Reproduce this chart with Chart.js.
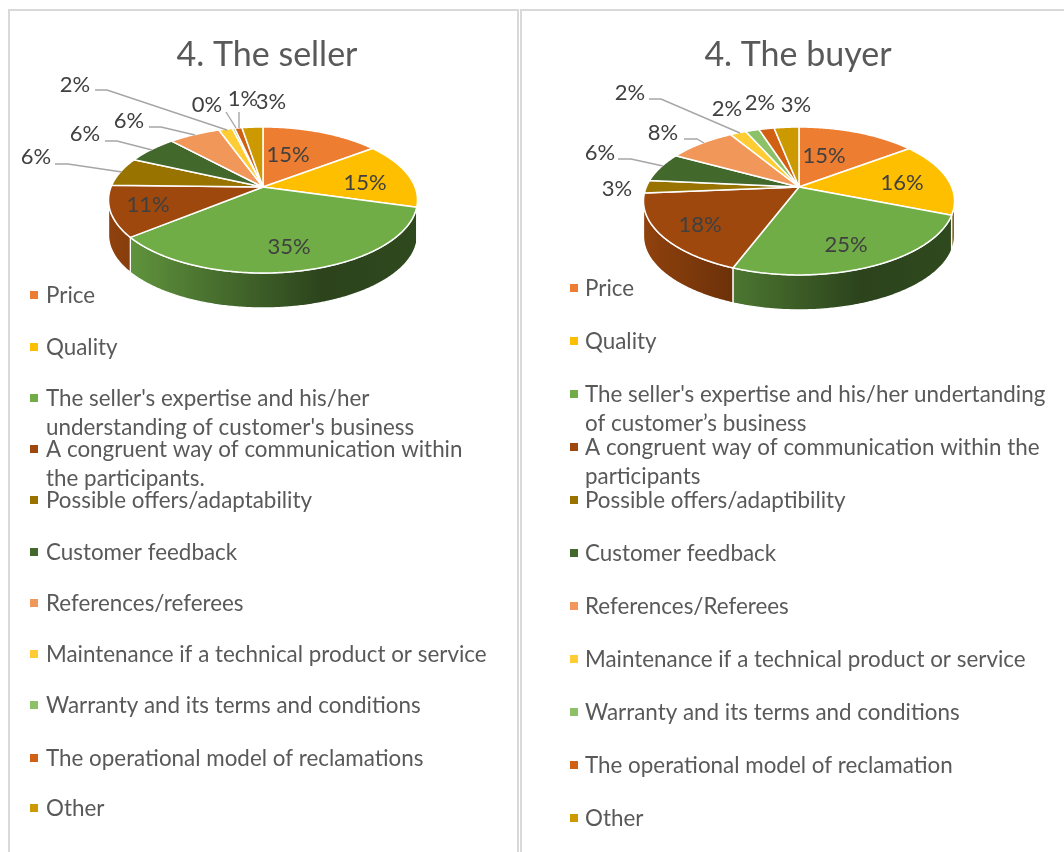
<!DOCTYPE html>
<html><head><meta charset="utf-8">
<script src="https://cdn.jsdelivr.net/npm/chart.js@4"></script>
<style>
html,body{margin:0;padding:0;background:#fff;width:1064px;height:852px;overflow:hidden}
.panel{position:absolute;top:9px;height:860px;border:2px solid #d9d9d9;box-sizing:border-box}
canvas{position:absolute;top:0;filter:blur(0.35px)}
</style></head><body>
<div class="panel" style="left:8px;width:511px"></div>
<div class="panel" style="left:520px;width:600px"></div>
<canvas id="a" width="534" height="852" style="left:0"></canvas>
<canvas id="b" width="536" height="852" style="left:530px"></canvas>
<script>
const titleSeller = "4. The seller";
const titleBuyer = "4. The buyer";
const categoriesSeller = ["Price","Quality",["The seller's expertise and his/her","understanding of customer's business"],["A congruent way of communication within","the participants."],"Possible offers/adaptability","Customer feedback","References/referees","Maintenance if a technical product or service","Warranty and its terms and conditions","The operational model of reclamations","Other"];
const categoriesBuyer = ["Price","Quality",["The seller's expertise and his/her undertanding","of customer’s business"],["A congruent way of communication within the","participants"],"Possible offers/adaptibility","Customer feedback","References/Referees","Maintenance if a technical product or service","Warranty and its terms and conditions","The operational model of reclamation","Other"];
const valuesSeller = [14.7,14.7,34.7,11.3,6.4,6.3,6.4,1.7,0.3,0.9,2.6];
const valuesBuyer = [14.8,16.2,24.8,17.9,2.8,6.4,8.4,2.0,1.7,1.9,3.1];
const sliceColors = ["#ed7d31","#fdbf00","#70ad47","#9e480e","#997300","#43682b","#f1975a","#ffcd33","#8cc168","#d26012","#cc9a00"];

function rgb(h){return [1,3,5].map(i=>parseInt(h.substr(i,2),16));}
function shade(h,m){return "rgb("+rgb(h).map(v=>Math.round(v*m)).join(",")+")";}

const pie3d = {
  id:"pie3d",
  beforeDatasetsDraw(chart,args,o){
    const ctx=chart.ctx, arcs=chart.getDatasetMeta(0).data, colors=chart.data.datasets[0].backgroundColor;
    const pt=(t,dy=0)=>{const X=Math.cos(t),Y=Math.sin(t),w=1-o.p*Y;return [o.cx+o.R*X/w,o.cy+o.k*Y/w+dy];};
    const lo=Math.asin(o.p), hi=Math.PI-lo;
    const trace=(a,b,dy)=>{const n=Math.max(2,Math.ceil(Math.abs(b-a)/0.01));for(let i=0;i<=n;i++){const q=pt(a+(b-a)*i/n,dy);ctx.lineTo(q[0],q[1]);}};
    ctx.save();
    ctx.lineJoin="round";
    arcs.forEach((arc,i)=>{
      const a=Math.max(arc.startAngle,lo), b=Math.min(arc.endAngle,hi);
      if(b<=a) return;
      const g=ctx.createLinearGradient(o.cx-o.R,0,o.cx+o.R,0);
      g.addColorStop(0,shade(colors[i],0.9));
      g.addColorStop(0.3,shade(colors[i],0.67));
      g.addColorStop(0.7,shade(colors[i],0.39));
      g.addColorStop(1,shade(colors[i],0.42));
      ctx.beginPath();
      trace(a,b,0); trace(b,a,o.depth);
      ctx.closePath();
      ctx.fillStyle=g; ctx.fill();
      ctx.strokeStyle="#fff"; ctx.lineWidth=1.3; ctx.stroke();
    });
    arcs.forEach((arc,i)=>{
      ctx.beginPath();
      ctx.moveTo(o.cx,o.cy);
      trace(arc.startAngle,arc.endAngle,0);
      ctx.closePath();
      ctx.fillStyle=colors[i]; ctx.fill();
      ctx.strokeStyle="#fff"; ctx.lineWidth=1.5; ctx.stroke();
    });
    ctx.restore();
    return false;
  },
  afterDraw(chart,args,o){
    const ctx=chart.ctx, ds=chart.data.datasets[0].data, total=ds.reduce((s,v)=>s+v,0), colors=chart.data.datasets[0].backgroundColor;
    ctx.save();
    ctx.strokeStyle="#a6a6a6"; ctx.lineWidth=1.4;
    o.leaders.forEach(l=>{ctx.beginPath();l.forEach((q,i)=>i?ctx.lineTo(q[0],q[1]):ctx.moveTo(q[0],q[1]));ctx.stroke();});
    ctx.font=o.labelFont; ctx.fillStyle="#404040"; ctx.textAlign="center"; ctx.textBaseline="middle";
    ds.forEach((v,i)=>ctx.fillText(Math.round(v/total*100)+"%",o.labelPos[i][0],o.labelPos[i][1]));
    ctx.font=o.legendFont; ctx.textAlign="left"; ctx.fillStyle="#595959";
    chart.data.labels.forEach((lab,i)=>{
      const y=o.legendY[i];
      ctx.fillStyle=colors[i]; ctx.fillRect(o.boxX,y-4,8,8);
      ctx.fillStyle="#595959";
      [].concat(lab).forEach((t,j)=>ctx.fillText(t,o.textX,y+j*o.lineGap+1));
    });
    ctx.restore();
  }
};

function make(id,title,labels,values,opt){
  return new Chart(document.getElementById(id),{
    type:"pie",
    data:{labels,datasets:[{data:values,backgroundColor:sliceColors}]},
    options:{
      responsive:false,animation:false,
      plugins:{
        legend:{display:false},tooltip:{enabled:false},
        title:{display:true,text:title,color:"#595959",font:{family:"Lato",size:34,weight:"normal"},padding:{top:35,bottom:0}},
        pie3d:opt
      }
    },
    plugins:[pie3d]
  });
}
Chart.defaults.font.family="Lato";
const rightX=530;
make("a",titleSeller,categoriesSeller,valuesSeller,{
  cx:263,cy:187,R:152,k:70.7,p:0.178,depth:35,
  labelFont:"22px Lato",legendFont:"22.4px Lato",boxX:30,textX:46,lineGap:28.5,
  legendY:[295,347,398,449,500,552,603,654,705,758,808],
  labelPos:[[288,155],[365,183],[289,247],[148,205],[36,157],[85,134],[129,121],[75,85],[207,105],[243,99],[271,102]],
  leaders:[[[95,90],[107,90],[227,130]],[[149,127],[161,127],[195,135]],[[105,141],[117,141],[152,150]],[[55,164],[68,164],[122,172]],[[226,112],[236,128]],[[239,112],[239,128]]]
});
make("b",titleBuyer,categoriesBuyer,valuesBuyer,{
  cx:799-rightX,cy:187,R:152.7,k:71.3,p:0.189,depth:35,
  labelFont:"22px Lato",legendFont:"22.4px Lato",boxX:570-rightX,textX:585-rightX,lineGap:28.5,
  legendY:[288,341,394,447,500,553,606,659,712,765,818],
  labelPos:[[824,156],[902,183],[846,245],[700,225],[617,189],[600,153],[663,133],[630,93],[727,109],[760,103],[796,105]].map(q=>[q[0]-rightX,q[1]]),
  leaders:[[[649,99],[661,99],[740,133]],[[684,139],[697,139],[704,143]],[[618,159],[631,159],[663,166]]].map(l=>l.map(q=>[q[0]-rightX,q[1]]))
});
</script>
</body></html>
